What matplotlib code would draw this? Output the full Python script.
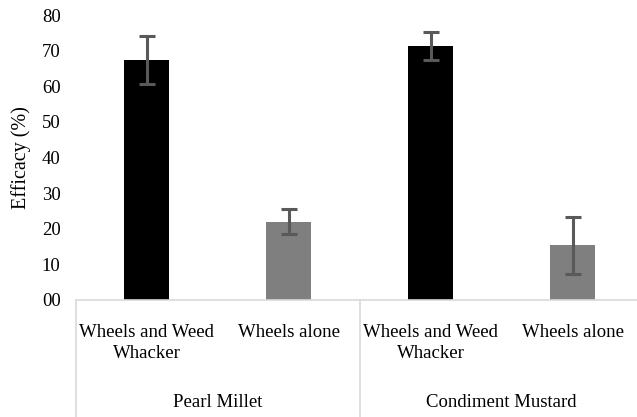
import matplotlib
matplotlib.use('Agg')
import matplotlib.pyplot as plt
import numpy as np

# values
treatments = ['Wheels and Weed\nWhacker', 'Wheels alone',
              'Wheels and Weed\nWhacker', 'Wheels alone']
crops = ['Pearl Millet', 'Condiment Mustard']
efficacy = [67.4, 22.0, 71.3, 15.3]
errors = [6.8, 3.6, 3.9, 8.0]
bar_colors = ['#000000', '#7f7f7f', '#000000', '#7f7f7f']

plt.rcParams['font.family'] = ['Liberation Serif', 'DejaVu Serif']

fig = plt.figure(figsize=(6.37, 4.17), dpi=100)
ax = fig.add_axes([0.119, 0.2806, 0.881, 0.6834])

x = np.arange(len(efficacy))
ax.bar(x, efficacy, width=0.317, color=bar_colors, zorder=2)
ax.errorbar(x, efficacy, yerr=errors, fmt='none', ecolor='#595959',
            elinewidth=2.2, capsize=5.5, capthick=2.2, zorder=3)

ax.set_xlim(-0.5, 3.454)
ax.set_ylim(0, 80)
ax.set_yticks(range(0, 81, 10))
ax.set_yticklabels(['{:02d}'.format(v) for v in range(0, 81, 10)], fontsize=13.5)
ax.tick_params(axis='y', length=0, pad=11)
ax.set_xticks(x)
ax.set_xticklabels(treatments, fontsize=13.5, linespacing=1.3)
ax.tick_params(axis='x', length=0, pad=17)
ax.set_ylabel('Efficacy (%)', fontsize=14.5, labelpad=8)

for s in ['top', 'right', 'left']:
    ax.spines[s].set_visible(False)
ax.spines['bottom'].set_color('#d9d9d9')
ax.spines['bottom'].set_linewidth(1.2)

# group separators below the axis
trans = ax.get_xaxis_transform()
for xs in [-0.5, 1.5]:
    ax.plot([xs, xs], [0, -0.45], transform=trans, color='#d9d9d9',
            lw=1.2, clip_on=False)

for i, name in enumerate(crops):
    ax.text(2 * i + 0.5, -0.36, name, transform=trans, ha='center',
            va='center', fontsize=13.5)

fig.savefig('out.png', dpi=100)
